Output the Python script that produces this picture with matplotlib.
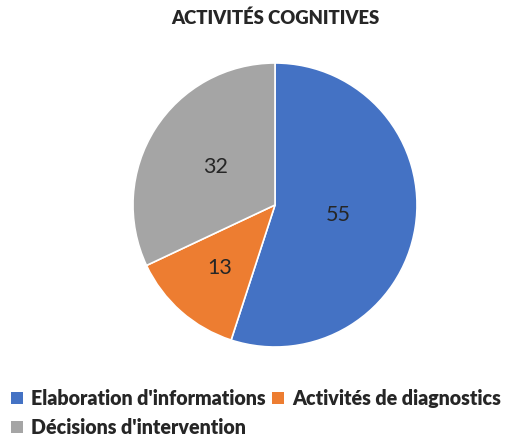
import numpy as np
import matplotlib
matplotlib.use("Agg")
import matplotlib.pyplot as plt
from matplotlib.patches import Patch

labels = ["Elaboration d'informations", "Activités de diagnostics", "Décisions d'intervention"]
values = [55, 13, 32]
colors = ["#4472C4", "#ED7D31", "#A5A5A5"]
title = "ACTIVITÉS COGNITIVES"
label_radius = [0.45, 0.59, 0.50]

plt.rcParams['font.family'] = ['Lato', 'DejaVu Sans']

W, H = 512, 436
fig = plt.figure(figsize=(W / 100, H / 100), dpi=100)
ax = fig.add_axes([0, 0, 1, 1])

cx, cy, r = 275, H - 205, 142
wedges, _ = ax.pie(
    values, colors=colors, startangle=90, counterclock=False,
    center=(cx, cy), radius=r,
    wedgeprops=dict(edgecolor='white', linewidth=1.2),
    frame=True,
)
ax.axis('off')
ax.set_xlim(0, W)
ax.set_ylim(0, H)
ax.set_aspect('equal')

# value labels placed along each wedge's bisector
for w, v, d in zip(wedges, values, label_radius):
    mid = np.deg2rad((w.theta1 + w.theta2) / 2)
    ax.text(cx + d * r * np.cos(mid), cy + d * r * np.sin(mid), str(v),
            ha='center', va='center', fontsize=15.5, color='#262626')

fig.text(275 / W, 1 - 18 / H, title, ha='center', va='center',
         fontsize=13.3, fontweight='heavy', color='#262626')

# row-major legend order for two columns
order = [0, 2, 1]
handles = [Patch(facecolor=colors[i], edgecolor='none') for i in order]
leg = fig.legend(handles, [labels[i] for i in order], ncol=2, loc='upper left',
                 bbox_to_anchor=(3 / W, 1 - 381 / H), frameon=False,
                 prop=dict(size=14.1, weight='heavy'),
                 handlelength=0.6, handleheight=0.6, handletextpad=0.45,
                 columnspacing=0.3, labelspacing=0.5, borderaxespad=0)
for t in leg.get_texts():
    t.set_color('#262626')

fig.savefig("out.png", dpi=100)
